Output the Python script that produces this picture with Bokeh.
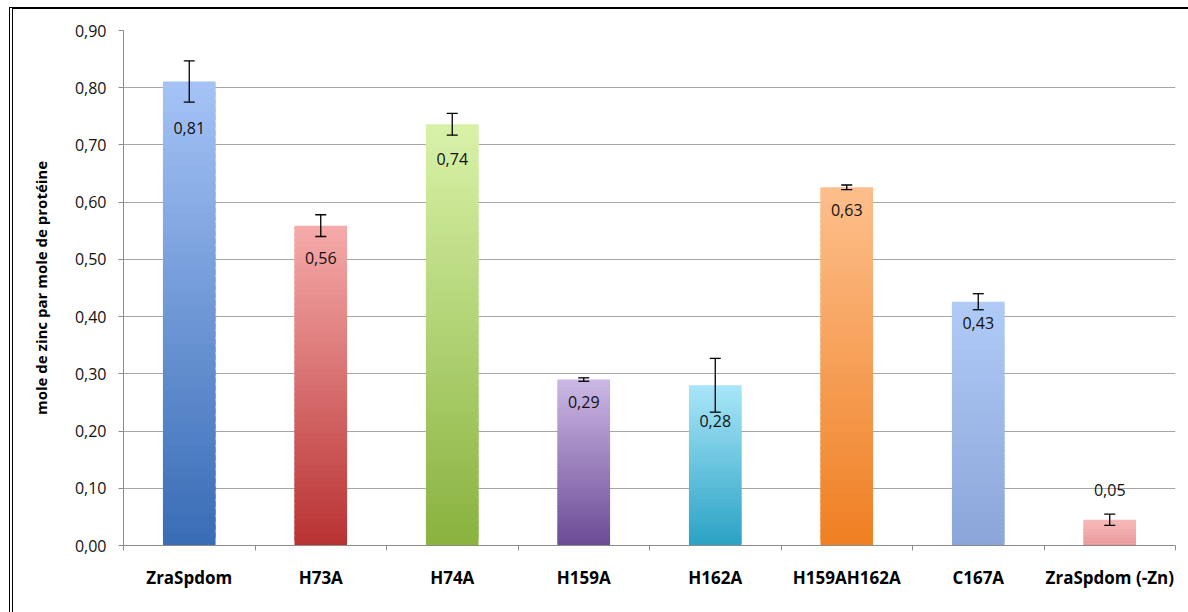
from bokeh.plotting import figure
from bokeh.models import (ColumnDataSource, FixedTicker, Range1d, Whisker, TeeHead)
from bokeh.core.properties import value
from bokeh.embed import file_html
from bokeh.resources import INLINE

# ---- data ----
categories = ["ZraSpdom", "H73A", "H74A", "H159A", "H162A", "H159AH162A", "C167A", "ZraSpdom (-Zn)"]
values = [0.811, 0.559, 0.736, 0.290, 0.280, 0.626, 0.426, 0.045]
errors = [0.036, 0.019, 0.019, 0.003, 0.047, 0.004, 0.014, 0.010]
value_labels = ["0,81", "0,56", "0,74", "0,29", "0,28", "0,63", "0,43", "0,05"]
y_ticks = [0.0, 0.1, 0.2, 0.3, 0.4, 0.5, 0.6, 0.7, 0.8, 0.9]
y_tick_labels = ["0,00", "0,10", "0,20", "0,30", "0,40", "0,50", "0,60", "0,70", "0,80", "0,90"]

# ---- styles ----
top_colors = ["#a5c3f6", "#f5abaa", "#d8f2a8", "#ccb8e4", "#a9e6f9", "#fdbf8c", "#b0cbf6", "#f6b4b4"]
bottom_colors = ["#386cb5", "#b93232", "#89b23f", "#6b4b96", "#2aa2c4", "#ef7f22", "#8aa6d9", "#e99494"]
label_offsets = [47, 32, 35, 22, 36, 23, 21, -30]  # px below bar top
BAR_W = 0.4
N_SLICES = 60
FONT = "Open Sans"

def hex2rgb(h):
    h = h.lstrip("#")
    return tuple(int(h[i:i + 2], 16) for i in (0, 2, 4))

def mix(c1, c2, t):
    a, b = hex2rgb(c1), hex2rgb(c2)
    return "#%02x%02x%02x" % tuple(int(round(a[k] + (b[k] - a[k]) * t)) for k in range(3))

xs = [i + 0.5 for i in range(len(categories))]

# gradient slices for each bar (derived from values); slices overlap to avoid seams
q = dict(left=[], right=[], bottom=[], top=[], color=[])
for i, v in enumerate(values):
    for j in range(N_SLICES):
        t = (j + 0.5) / N_SLICES
        q["left"].append(xs[i] - BAR_W / 2)
        q["right"].append(xs[i] + BAR_W / 2)
        q["bottom"].append(v * j / N_SLICES)
        q["top"].append(v * min(j + 1.7, N_SLICES) / N_SLICES)
        q["color"].append(mix(bottom_colors[i], top_colors[i], t))

p = figure(width=1175, height=603, output_backend="svg", toolbar_location=None,
           x_range=Range1d(0, len(categories)), y_range=Range1d(0, 0.9),
           frame_width=1052, frame_height=515,
           min_border_left=110, min_border_top=21, min_border_right=13, min_border_bottom=67)
p.styles = {"border-left": "4px double #000000", "border-top": "2px solid #000000",
            "margin-left": "9px", "margin-top": "7px"}
p.outline_line_color = None
p.background_fill_color = "white"
p.border_fill_color = "white"

p.quad(left="left", right="right", bottom="bottom", top="top", color="color",
       line_color=None, source=ColumnDataSource(q))

src = ColumnDataSource(dict(x=xs, v=values, up=[v + e for v, e in zip(values, errors)],
                            lo=[v - e for v, e in zip(values, errors)],
                            lab=value_labels, off=label_offsets))
w = Whisker(base="x", upper="up", lower="lo", source=src, line_color="black", line_width=1.3,
            upper_head=TeeHead(size=11, line_color="black", line_width=1.3),
            lower_head=TeeHead(size=11, line_color="black", line_width=1.3),
            level="annotation")
p.add_layout(w)

p.text(x="x", y="v", text="lab", y_offset="off", source=src, text_align="center",
       text_baseline="middle", text_font=value(FONT), text_font_size="16px", text_color="#111111")

# axes
p.xaxis.ticker = FixedTicker(ticks=xs, minor_ticks=list(range(len(categories) + 1)))
p.xaxis.major_label_overrides = {x: c for x, c in zip(xs, categories)}
p.xaxis.major_tick_line_color = None
p.xaxis.major_tick_out = 0
p.xaxis.minor_tick_out = 5
p.xaxis.minor_tick_in = 0
p.xaxis.minor_tick_line_color = "#8c8c8c"
p.xaxis.axis_line_color = "#8c8c8c"
p.xaxis.major_label_text_font = FONT
p.xaxis.major_label_text_font_style = "bold"
p.xaxis.major_label_text_font_size = "17px"
p.xaxis.major_label_text_color = "black"
p.xaxis.major_label_standoff = 15

p.yaxis.ticker = FixedTicker(ticks=y_ticks)
p.yaxis.major_label_overrides = {t: s for t, s in zip(y_ticks, y_tick_labels)}
p.yaxis.minor_tick_line_color = None
p.yaxis.major_tick_out = 5
p.yaxis.major_tick_in = 0
p.yaxis.major_tick_line_color = "#8c8c8c"
p.yaxis.axis_line_color = "#8c8c8c"
p.yaxis.major_label_text_font = FONT
p.yaxis.major_label_text_font_size = "16px"
p.yaxis.major_label_text_color = "#111111"
p.yaxis.major_label_standoff = 12
p.yaxis.axis_label = "mole de zinc par mole de protéine"
p.yaxis.axis_label_text_font = FONT
p.yaxis.axis_label_text_font_style = "bold"
p.yaxis.axis_label_text_font_size = "15px"
p.yaxis.axis_label_text_color = "black"
p.yaxis.axis_label_standoff = 21

p.xgrid.grid_line_color = None
p.ygrid.grid_line_color = "#a6a6a6"
p.ygrid.grid_line_width = 1.2

open("out.html", "w").write(file_html(p, INLINE))
